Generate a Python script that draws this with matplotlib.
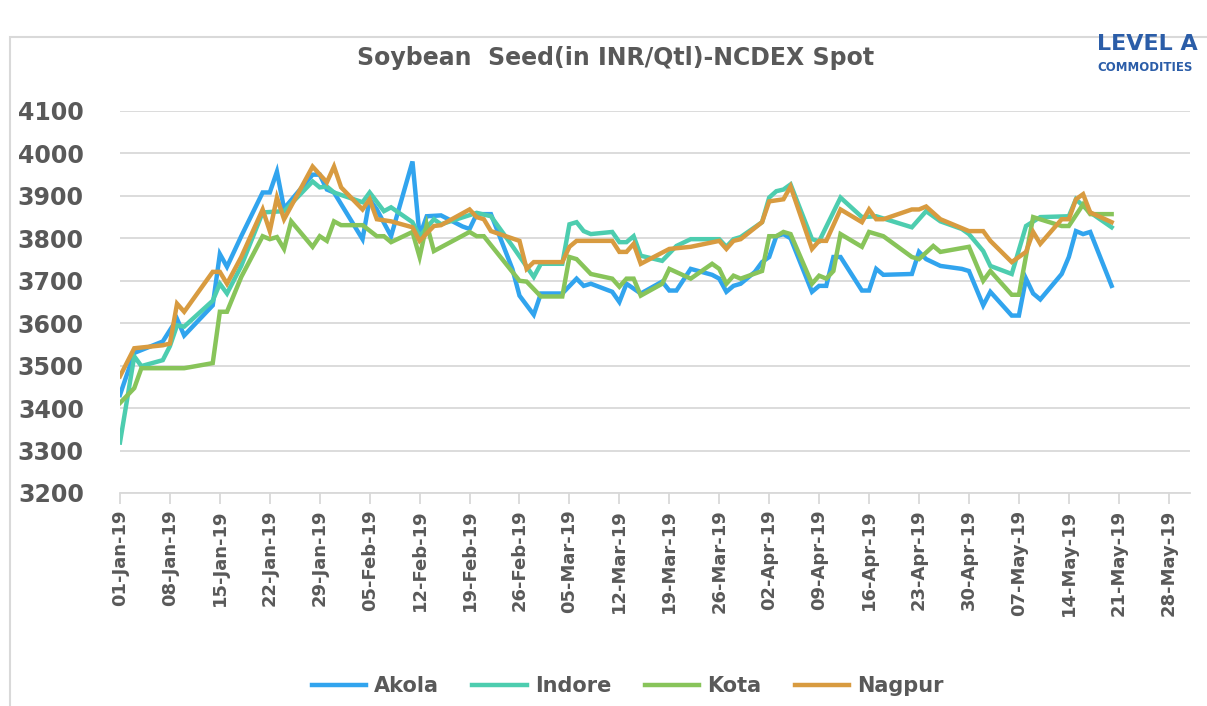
import matplotlib.pyplot as plt
import matplotlib.dates as mdates
from matplotlib.patches import Rectangle
import pandas as pd

# dates are MM-DD in 2019, values in INR/Qtl
akola_dates = ['01-01', '01-03', '01-07', '01-09', '01-10', '01-14', '01-15', '01-16', '01-18', '01-21',
               '01-22', '01-23', '01-24', '01-28', '01-29', '01-30', '01-31', '02-04', '02-05', '02-06',
               '02-08', '02-11', '02-12', '02-13', '02-15', '02-18', '02-19', '02-20', '02-22', '02-25',
               '02-26', '02-28', '03-01', '03-04', '03-06', '03-07', '03-08', '03-11', '03-12', '03-13',
               '03-15', '03-18', '03-19', '03-20', '03-22', '03-25', '03-26', '03-27', '03-28', '03-29',
               '03-31', '04-01', '04-02', '04-03', '04-04', '04-05', '04-08', '04-09', '04-10', '04-11',
               '04-12', '04-15', '04-16', '04-17', '04-18', '04-22', '04-23', '04-24', '04-26', '04-29',
               '04-30', '05-02', '05-03', '05-06', '05-07', '05-08', '05-09', '05-10', '05-13', '05-14',
               '05-15', '05-16', '05-17', '05-20']
akola = [3431, 3530, 3557, 3610, 3571, 3642, 3763, 3733, 3805, 3908,
         3908, 3957, 3870, 3950, 3950, 3915, 3908, 3798, 3892, 3868,
         3805, 3981, 3805, 3852, 3854, 3828, 3822, 3857, 3857, 3728,
         3665, 3620, 3670, 3670, 3705, 3688, 3693, 3674, 3650, 3693,
         3670, 3698, 3677, 3677, 3728, 3714, 3705, 3674, 3688, 3693,
         3721, 3744, 3756, 3805, 3810, 3800, 3674, 3688, 3688, 3756,
         3756, 3677, 3677, 3728, 3714, 3716, 3768, 3751, 3735, 3728,
         3723, 3642, 3674, 3618, 3618, 3705, 3670, 3656, 3716, 3756,
         3817, 3810, 3815, 3688]

indore_dates = ['01-01', '01-03', '01-04', '01-07', '01-08', '01-09', '01-10', '01-14', '01-15', '01-16',
                '01-18', '01-21', '01-24', '01-28', '01-29', '01-30', '01-31', '02-04', '02-05', '02-07',
                '02-08', '02-11', '02-12', '02-14', '02-15', '02-20', '02-22', '02-25', '02-28', '03-01',
                '03-04', '03-05', '03-06', '03-07', '03-08', '03-11', '03-12', '03-13', '03-14', '03-15',
                '03-18', '03-20', '03-22', '03-26', '03-27', '03-28', '03-29', '04-01', '04-02', '04-03',
                '04-04', '04-05', '04-08', '04-09', '04-12', '04-15', '04-17', '04-22', '04-24', '04-26',
                '04-29', '04-30', '05-02', '05-03', '05-06', '05-08', '05-10', '05-14', '05-15', '05-17',
                '05-20']
indore = [3319, 3522, 3499, 3513, 3546, 3595, 3592, 3653, 3693, 3670,
          3735, 3861, 3864, 3934, 3920, 3922, 3908, 3885, 3908, 3864,
          3873, 3838, 3805, 3845, 3833, 3860, 3852, 3782, 3709, 3740,
          3740, 3833, 3838, 3817, 3810, 3815, 3791, 3791, 3805, 3759,
          3747, 3782, 3798, 3798, 3780, 3798, 3803, 3838, 3896, 3911,
          3915, 3927, 3798, 3793, 3896, 3850, 3852, 3826, 3864, 3840,
          3822, 3810, 3770, 3735, 3716, 3829, 3850, 3852, 3892, 3861,
          3826]

kota_dates = ['01-01', '01-03', '01-04', '01-10', '01-14', '01-15', '01-16', '01-18', '01-21', '01-22',
              '01-23', '01-24', '01-25', '01-28', '01-29', '01-30', '01-31', '02-01', '02-04', '02-06',
              '02-07', '02-08', '02-11', '02-12', '02-13', '02-14', '02-19', '02-20', '02-21', '02-26',
              '02-27', '03-01', '03-04', '03-05', '03-06', '03-08', '03-11', '03-12', '03-13', '03-14',
              '03-15', '03-18', '03-19', '03-22', '03-25', '03-26', '03-27', '03-28', '03-29', '04-01',
              '04-02', '04-03', '04-04', '04-05', '04-08', '04-09', '04-10', '04-11', '04-12', '04-15',
              '04-16', '04-18', '04-22', '04-23', '04-25', '04-26', '04-30', '05-02', '05-03', '05-06',
              '05-07', '05-09', '05-13', '05-14', '05-16', '05-17', '05-20']
kota = [3412, 3447, 3494, 3494, 3506, 3627, 3627, 3709, 3805, 3798,
        3803, 3775, 3840, 3780, 3805, 3794, 3840, 3831, 3831, 3805,
        3805, 3791, 3815, 3756, 3833, 3770, 3815, 3805, 3805, 3700,
        3698, 3663, 3663, 3756, 3751, 3716, 3705, 3686, 3705, 3705,
        3665, 3693, 3728, 3705, 3740, 3728, 3693, 3712, 3705, 3723,
        3805, 3805, 3815, 3810, 3693, 3712, 3705, 3723, 3810, 3780,
        3815, 3805, 3756, 3751, 3782, 3768, 3780, 3700, 3723, 3667,
        3667, 3850, 3829, 3829, 3880, 3857, 3857]

nagpur_dates = ['01-01', '01-03', '01-07', '01-08', '01-09', '01-10', '01-14', '01-15', '01-16', '01-18',
                '01-21', '01-22', '01-23', '01-24', '01-28', '01-30', '01-31', '02-01', '02-04', '02-05',
                '02-06', '02-08', '02-11', '02-12', '02-14', '02-15', '02-19', '02-20', '02-21', '02-22',
                '02-26', '02-27', '02-28', '03-04', '03-05', '03-06', '03-11', '03-12', '03-13', '03-14',
                '03-15', '03-19', '03-22', '03-26', '03-27', '03-28', '03-29', '04-01', '04-02', '04-04',
                '04-05', '04-08', '04-09', '04-10', '04-12', '04-15', '04-16', '04-17', '04-18', '04-22',
                '04-23', '04-24', '04-26', '04-30', '05-02', '05-03', '05-06', '05-08', '05-09', '05-10',
                '05-13', '05-14', '05-15', '05-16', '05-17', '05-20']
nagpur = [3475, 3541, 3548, 3552, 3646, 3627, 3721, 3721, 3693, 3756,
          3868, 3817, 3896, 3845, 3969, 3932, 3969, 3920, 3868, 3892,
          3845, 3840, 3826, 3794, 3829, 3831, 3868, 3850, 3845, 3817,
          3794, 3728, 3744, 3744, 3780, 3794, 3794, 3768, 3768, 3787,
          3740, 3775, 3780, 3794, 3775, 3794, 3798, 3838, 3887, 3892,
          3922, 3775, 3794, 3794, 3868, 3838, 3868, 3845, 3845, 3868,
          3868, 3875, 3845, 3817, 3817, 3794, 3744, 3768, 3815, 3787,
          3845, 3845, 3892, 3904, 3861, 3838]

series = [
    ('Akola', akola_dates, akola, '#31A4EE'),
    ('Indore', indore_dates, indore, '#4DCDAF'),
    ('Kota', kota_dates, kota, '#88C45A'),
    ('Nagpur', nagpur_dates, nagpur, '#D89B40'),
]

grey = '#595959'
fig = plt.figure(figsize=(12.07, 7.06), dpi=100)
ax = fig.add_axes([0.0994, 0.3017, 0.8866, 0.5411])

for name, d, v, c in series:
    x = pd.to_datetime(['2019-' + s for s in d])
    ax.plot(x, v, color=c, lw=3.2, label=name, solid_joinstyle='miter')

ax.set_ylim(3200, 4100)
ax.set_yticks(range(3200, 4101, 100))
ax.set_xlim(pd.Timestamp('2019-01-01'), pd.Timestamp('2019-05-31'))
ax.set_xticks(pd.date_range('2019-01-01', '2019-05-28', freq='7D'))
ax.xaxis.set_major_formatter(mdates.DateFormatter('%d-%b-%y'))

ax.grid(axis='y', color='#D9D9D9', lw=1.3)
ax.set_axisbelow(True)
for side in ['left', 'right', 'top']:
    ax.spines[side].set_visible(False)
ax.spines['bottom'].set_color('#D9D9D9')
ax.spines['bottom'].set_linewidth(1.3)
ax.tick_params(axis='y', length=0, pad=26, labelsize=17, labelcolor=grey)
ax.tick_params(axis='x', length=8, width=1.3, color='#D9D9D9', labelsize=13,
               labelcolor=grey, rotation=90, pad=4)
for lab in ax.get_xticklabels() + ax.get_yticklabels():
    lab.set_fontweight('bold')

fig.text(0.51, 0.918, 'Soybean  Seed(in INR/Qtl)-NCDEX Spot', ha='center', va='center',
         fontsize=17, fontweight='bold', color=grey)

# logo fragment, cut by the right edge
fig.text(0.909, 0.937, 'LEVEL A', fontsize=16, fontweight='bold', color='#2B5DA8', va='center')
fig.text(0.909, 0.905, 'COMMODITIES', fontsize=8.5, fontweight='bold', color='#2B5DA8', va='center')

# outer chart frame
fig.patches.append(Rectangle((10 / 1207, -0.05), 1.2, 0.05 + 669 / 706, transform=fig.transFigure,
                             fill=False, edgecolor='#D9D9D9', lw=1.5))

leg = fig.legend(loc='center', bbox_to_anchor=(0.52, 0.028), ncol=4, frameon=False,
                 fontsize=15, handlelength=2.6, columnspacing=1.6, handletextpad=0.4)
for t in leg.get_texts():
    t.set_fontweight('bold')
    t.set_color(grey)

fig.savefig('out.png', dpi=100)
